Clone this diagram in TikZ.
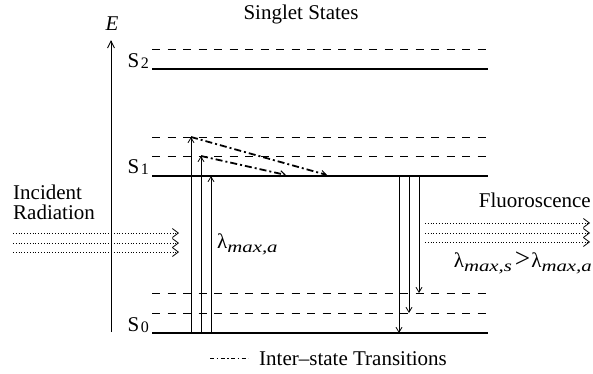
\documentclass[tikz,border=0pt]{standalone}
\usepackage{fontspec}
\setmainfont{Liberation Serif}
\usetikzlibrary{arrows.meta}
\newcommand{\lsub}[1]{\raisebox{-4pt}{\scalebox{1.3}[1]{\fontsize{16}{16}\selectfont\itshape #1}}}
\newcommand{\ssub}[1]{\hspace{1.5pt}\raisebox{-1pt}{\fontsize{16}{16}\selectfont #1}}
\begin{document}
\begin{tikzpicture}[x=1pt,y=-1pt,
  level/.style={line width=1.9pt},
  sublevel/.style={line width=0.9pt, dash pattern=on 8pt off 7.5pt},
  trans/.style={line width=0.8pt,-{Straight Barb[length=5pt,width=6pt,line width=0.8pt]}},
  isc/.style={line width=1.8pt, dash pattern=on 7pt off 3pt on 2pt off 3pt,
    -{Straight Barb[length=5pt,width=6pt,line width=1pt]}},
  legendline/.style={line width=1pt, dash pattern=on 4pt off 2.5pt on 1.5pt off 2.5pt},
  ray/.style={line width=0.9pt, dash pattern=on 0.9pt off 1.9pt,
    -{Straight Barb[length=6pt,width=9pt,line width=0.8pt]}},
  axis/.style={line width=0.9pt,-{Straight Barb[length=7pt,width=7pt,line width=0.9pt]}},
  lbl/.style={font=\fontsize{21}{24}\selectfont, inner sep=0pt}
]
\useasboundingbox (0,0) rectangle (593,373);
\fill[white] (0,0) rectangle (593,373);

% energy axis
\coordinate (axb) at (111,332);
\coordinate (axt) at (111,40);
\draw[axis] (axb) -- (axt);
\node[lbl, anchor=base] (E) at (112,30) {\textit{E}};
\node[lbl, anchor=base] (title) at (301,19) {Singlet States};

% levels
\coordinate (s2l) at (152,69);  \coordinate (s2r) at (488,69);
\coordinate (s2al) at (152,49); \coordinate (s2ar) at (488,49);
\coordinate (s1l) at (152,176); \coordinate (s1r) at (488,176);
\coordinate (s1al) at (152,156); \coordinate (s1ar) at (488,156);
\coordinate (s1bl) at (152,137); \coordinate (s1br) at (488,137);
\coordinate (s0l) at (152,333); \coordinate (s0r) at (488,333);
\coordinate (s0al) at (152,313); \coordinate (s0ar) at (488,313);
\coordinate (s0bl) at (152,293); \coordinate (s0br) at (488,293);

\draw[level] (s2l) -- (s2r);
\draw[sublevel] (s2al) -- (s2ar);
\draw[level] (s1l) -- (s1r);
\draw[sublevel] (s1al) -- (s1ar);
\draw[sublevel] (s1bl) -- (s1br);
\draw[level] (s0l) -- (s0r);
\draw[sublevel] (s0al) -- (s0ar);
\draw[sublevel] (s0bl) -- (s0br);

\node[lbl, anchor=base east] (S2) at (149,67) {S\ssub{2}};
\node[lbl, anchor=base east] (S1) at (149,173) {S\ssub{1}};
\node[lbl, anchor=base east] (S0) at (149,331) {S\ssub{0}};

% absorption
\coordinate (a1b) at (191,333); \coordinate (a1t) at (191,137);
\coordinate (a2b) at (201,333); \coordinate (a2t) at (201,156);
\coordinate (a3b) at (211,333); \coordinate (a3t) at (211,176);
\draw[trans] (a1b) -- (a1t);
\draw[trans] (a2b) -- (a2t);
\draw[trans] (a3b) -- (a3t);
\node[lbl, anchor=base west] (la) at (217,248) {λ\lsub{max,a}};

% inter-state transitions
\coordinate (i1e) at (327,175);
\coordinate (i2e) at (286,175);
\draw[isc] (a1t) -- (i1e);
\draw[isc] (a2t) -- (i2e);

% emission
\coordinate (e1t) at (399,176); \coordinate (e1b) at (399,333);
\coordinate (e2t) at (409,176); \coordinate (e2b) at (409,313);
\coordinate (e3t) at (419,176); \coordinate (e3b) at (419,293);
\draw[trans] (e1t) -- (e1b);
\draw[trans] (e2t) -- (e2b);
\draw[trans] (e3t) -- (e3b);

% incident radiation
\node[lbl, anchor=base west] (inc) at (13,199) {Incident};
\node[lbl, anchor=base west] (rad) at (13,219) {Radiation};
\foreach \y/\n in {233/1,243/2,252/3}{
  \coordinate (ir\n a) at (13,\y);
  \coordinate (ir\n b) at (179,\y);
  \draw[ray] (ir\n a) -- (ir\n b);
}

% fluorescence
\node[lbl, anchor=base east] (flu) at (591,207) {Fluoroscence};
\foreach \y/\n in {223/1,233/2,242/3}{
  \coordinate (fl\n a) at (425,\y);
  \coordinate (fl\n b) at (590,\y);
  \draw[ray] (fl\n a) -- (fl\n b);
}
\node[lbl, anchor=base east] (ls) at (592,267) {λ\lsub{max,s}\hspace{3pt}\scalebox{1.3}{>}\hspace{1pt}λ\lsub{max,a}};

% legend
\coordinate (lg1) at (210,358);
\coordinate (lg2) at (248,358);
\draw[legendline] (lg1) -- (lg2);
\node[lbl, anchor=base west] (lgt) at (259,365) {Inter–state Transitions};
\end{tikzpicture}
\end{document}
